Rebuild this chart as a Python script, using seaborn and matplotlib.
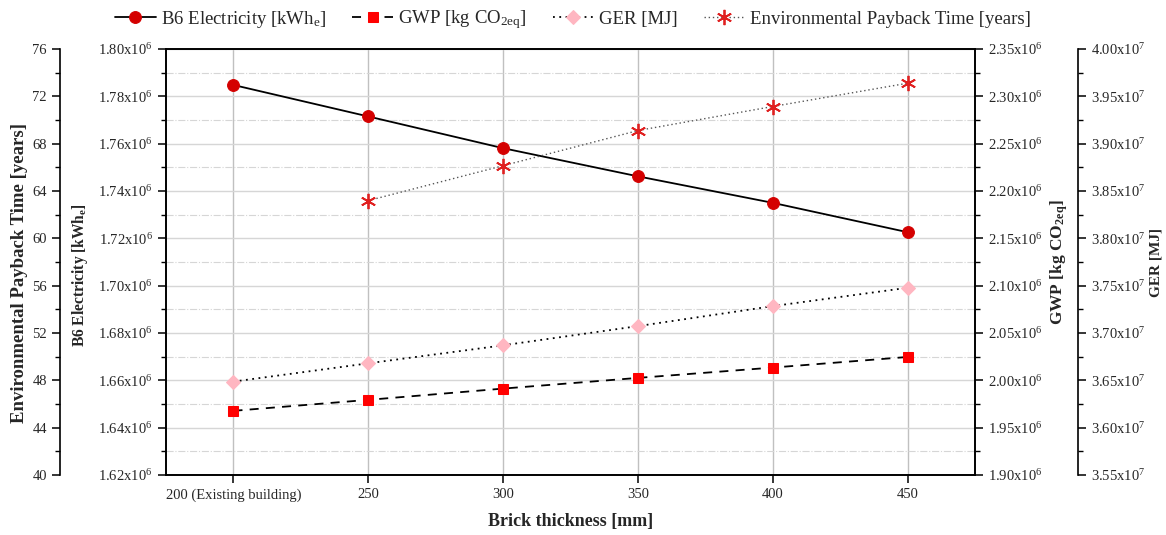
import matplotlib
matplotlib.use("Agg")
import matplotlib.pyplot as plt
import seaborn as sns
from matplotlib.ticker import MultipleLocator, FuncFormatter

# ---- data ----
thickness = [200, 250, 300, 350, 400, 450]
tick_labels = ["200 (Existing building)", "250", "300", "350", "400", "450"]
b6_electricity = [1.7848e6, 1.7715e6, 1.7581e6, 1.7462e6, 1.7350e6, 1.7226e6]
gwp = [1.9678e6, 1.9794e6, 1.9913e6, 2.0026e6, 2.0135e6, 2.0247e6]
ger = [3.6487e7, 3.6680e7, 3.6870e7, 3.7073e7, 3.7284e7, 3.7478e7]
ept_thickness = [250, 300, 350, 400, 450]
ept = [63.19, 66.14, 69.11, 71.14, 73.11]

sns.set_style("ticks")
plt.rcParams['font.family'] = ['Liberation Serif', 'DejaVu Serif']
plt.rcParams['mathtext.fontset'] = 'custom'
plt.rcParams['mathtext.rm'] = 'Liberation Serif'
plt.rcParams['mathtext.it'] = 'Liberation Serif:italic'
plt.rcParams['mathtext.bf'] = 'Liberation Serif:bold'

TICK_FS = 10.5

fig = plt.figure(figsize=(11.66, 5.35), dpi=100)
ax = fig.add_axes([0.1424, 0.1121, 0.6938, 0.7963])
ax_gwp = ax.twinx()
ax_ger = ax.twinx()
ax_ept = ax.twinx()

# main axis: B6
sns.lineplot(x=thickness, y=b6_electricity, ax=ax, color='black', lw=1.3,
             marker='o', markersize=8.5, markerfacecolor='#d40000',
             markeredgecolor='#d40000', legend=False, zorder=5)
h_b6 = ax.lines[-1]

sns.lineplot(x=thickness, y=gwp, ax=ax_gwp, color='black', lw=1.3,
             linestyle=(0, (5, 4)), marker='s', markersize=7.5,
             markerfacecolor='#ff0000', markeredgecolor='#ff0000', legend=False)
h_gwp = ax_gwp.lines[-1]

sns.lineplot(x=thickness, y=ger, ax=ax_ger, color='black', lw=1.3,
             linestyle=(0, (1, 2.5)), marker='D', markersize=7.5,
             markerfacecolor='#ffb6c1', markeredgecolor='#ffb6c1', legend=False)
h_ger = ax_ger.lines[-1]

sns.lineplot(x=ept_thickness, y=ept, ax=ax_ept, color='#555555', lw=1.0,
             linestyle=(0, (1, 2)), marker=(6, 2, 0), markersize=11,
             markeredgecolor='#e02020', markeredgewidth=1.3, legend=False)
h_ept = ax_ept.lines[-1]

# x axis
ax.set_xlim(175, 475)
ax.set_xticks(thickness)
ax.set_xticklabels(tick_labels, fontsize=TICK_FS)
ax.set_xlabel("Brick thickness [mm]", fontsize=13, fontweight='bold', labelpad=8)

# B6 axis
ax.set_ylim(1.62e6, 1.80e6)
ax.yaxis.set_major_locator(MultipleLocator(0.02e6))
ax.yaxis.set_minor_locator(MultipleLocator(0.01e6))
ax.yaxis.set_major_formatter(FuncFormatter(lambda v, p: f"{v/1e6:.2f}x10$^{{6}}$"))
ax.set_ylabel(r"B6 Electricity [kWh$_\mathbf{e}$]", fontsize=11.2, fontweight='bold',
              labelpad=6, y=0.47)

# grids
ax.grid(True, which='major', axis='x', color='#c0c0c0', lw=1.0, ls='-')
ax.grid(True, which='major', axis='y', color='#d6d6d6', lw=1.0, ls='-')
ax.grid(True, which='minor', axis='y', color='#d6d6d6', lw=0.8, ls='-.')
ax.set_axisbelow(True)

# GWP axis
ax_gwp.set_ylim(1.90e6, 2.35e6)
ax_gwp.yaxis.set_major_locator(MultipleLocator(0.05e6))
ax_gwp.yaxis.set_minor_locator(MultipleLocator(0.025e6))
ax_gwp.yaxis.set_major_formatter(FuncFormatter(lambda v, p: f"{v/1e6:.2f}x10$^{{6}}$"))
ax_gwp.set_ylabel(r"GWP [kg CO$_\mathbf{2eq}$]", fontsize=12.5, fontweight='bold', labelpad=4)

# GER axis
ax_ger.spines['right'].set_position(('axes', 1.1273))
for s in ['left', 'top', 'bottom']:
    ax_ger.spines[s].set_visible(False)
ax_ger.set_ylim(3.55e7, 4.00e7)
ax_ger.yaxis.set_major_locator(MultipleLocator(0.05e7))
ax_ger.yaxis.set_minor_locator(MultipleLocator(0.025e7))
ax_ger.yaxis.set_major_formatter(FuncFormatter(lambda v, p: f"{v/1e7:.2f}x10$^{{7}}$"))
ax_ger.set_ylabel("GER [MJ]", fontsize=11, fontweight='bold', labelpad=3)

# EPT axis
ax_ept.spines['left'].set_position(('axes', -0.131))
ax_ept.spines['left'].set_visible(True)
for s in ['right', 'top', 'bottom']:
    ax_ept.spines[s].set_visible(False)
ax_ept.yaxis.set_ticks_position('left')
ax_ept.yaxis.set_label_position('left')
ax_ept.set_ylim(40, 76)
ax_ept.yaxis.set_major_locator(MultipleLocator(4))
ax_ept.yaxis.set_minor_locator(MultipleLocator(2))
ax_ept.set_ylabel("Environmental Payback Time [years]", fontsize=13.5, fontweight='bold',
                  labelpad=3, y=0.475)

for a in [ax, ax_gwp, ax_ger, ax_ept]:
    for s in a.spines.values():
        s.set_linewidth(1.2)
        s.set_color('black')
    a.tick_params(axis='both', which='major', direction='out', length=6, width=1.1,
                  labelsize=TICK_FS, color='black')
    a.tick_params(axis='y', which='minor', direction='out', length=3.5, width=1.0, color='black')
    a.set_facecolor('none')
ax.tick_params(axis='x', which='minor', bottom=False)

handles = [h_b6, h_gwp, h_ger, h_ept]
labels = [r"B6 Electricity [kWh$_\mathrm{e}$]", r"GWP [kg CO$_\mathrm{2eq}$]",
          "GER [MJ]", "Environmental Payback Time [years]"]
fig.legend(handles, labels, loc='center', bbox_to_anchor=(0.491, 0.963), ncol=4,
           frameon=False, fontsize=13.5, handlelength=2.2, columnspacing=1.4,
           handletextpad=0.25)

fig.savefig("out.png", dpi=100)
